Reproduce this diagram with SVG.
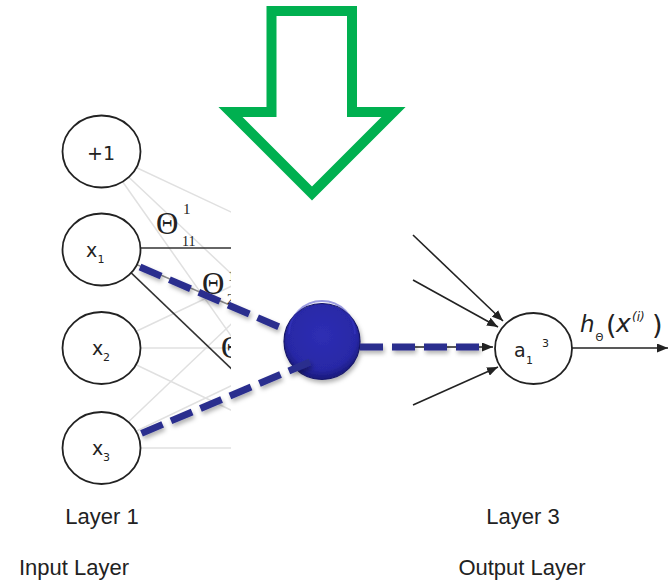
<svg xmlns="http://www.w3.org/2000/svg" width="668" height="581" viewBox="0 0 668 581">
<defs>
<style>
.thin{stroke:#e0e0e0;stroke-width:1.5;fill:none}
.mid{stroke:#8a8a8a;stroke-width:1.5;fill:none}
.dark{stroke:#333;stroke-width:1.6;fill:none}
.arr{stroke:#222;stroke-width:1.6;fill:none;marker-end:url(#ah)}
.node{fill:#fff;stroke:#222;stroke-width:1.8}
.lbl{font-family:"DejaVu Sans",sans-serif;fill:#222}
.theta{font-family:"Liberation Serif",serif;fill:#222}
.layer{font-family:"Liberation Sans",Arial,sans-serif;font-size:22px;fill:#222;text-anchor:middle}
.blue{stroke:#2b2f8e;stroke-width:7;stroke-dasharray:23 9;fill:none;filter:url(#sh)}
</style>
<marker id="ah" markerUnits="userSpaceOnUse" markerWidth="11" markerHeight="9" refX="11" refY="4.5" orient="auto"><path d="M0,0 L11,4.5 L0,9 z" fill="#222"/></marker>
<clipPath id="cl"><rect x="0" y="0" width="231" height="581"/></clipPath>
<radialGradient id="ballg" cx="0.5" cy="0.42" r="0.56">
<stop offset="0" stop-color="#2e2eb4"/>
<stop offset="0.8" stop-color="#2828a6"/>
<stop offset="1" stop-color="#1b1b80"/>
</radialGradient>
<filter id="sh" filterUnits="userSpaceOnUse" x="0" y="0" width="668" height="581"><feDropShadow dx="1.5" dy="3" stdDeviation="2" flood-color="#000" flood-opacity="0.3"/></filter>
</defs>
<rect width="668" height="581" fill="#fff"/>

<g id="connectors">
<g clip-path="url(#cl)">
<line class="thin" x1="101" y1="151" x2="310" y2="249"/>
<line class="thin" x1="101" y1="151" x2="310" y2="348"/>
<line class="thin" x1="101" y1="151" x2="310" y2="448"/>
<line class="thin" x1="101" y1="348" x2="310" y2="249"/>
<line class="thin" x1="101" y1="348" x2="310" y2="348"/>
<line class="thin" x1="101" y1="348" x2="310" y2="448"/>
<line class="thin" x1="101" y1="448" x2="310" y2="249"/>
<line class="thin" x1="101" y1="448" x2="310" y2="348"/>
<line class="thin" x1="101" y1="448" x2="310" y2="448"/>
<line class="dark" x1="101" y1="248" x2="310" y2="248"/>
<line class="mid" x1="101" y1="249" x2="310" y2="340"/>
<line class="dark" x1="101" y1="244" x2="310" y2="444"/>
<text class="theta" x="156" y="234" font-size="31">Θ</text>
<text class="theta" x="183" y="214" font-size="15">1</text>
<text class="theta" x="182" y="246" font-size="14">11</text>
<text class="theta" x="202" y="294" font-size="31">Θ</text>
<text class="theta" x="228" y="281" font-size="15">1</text>
<text class="theta" x="227" y="304" font-size="14">2</text>
<text class="theta" x="221" y="358" font-size="31">Θ</text>
</g>
<line class="arr" x1="413" y1="235" x2="503" y2="321"/>
<line class="arr" x1="413" y1="280" x2="498" y2="327"/>
<line class="arr" x1="413" y1="347" x2="493" y2="347"/>
<line class="arr" x1="413" y1="405" x2="498" y2="367"/>
<line class="arr" x1="572" y1="348" x2="668" y2="348"/>
</g>

<g id="node-bias">
<ellipse class="node" cx="101.5" cy="151.5" rx="39" ry="36"/>
<text class="lbl" x="101" y="160" font-size="19" text-anchor="middle">+1</text>
</g>
<g id="node-x1">
<ellipse class="node" cx="101.5" cy="249.5" rx="39" ry="36"/>
<text class="lbl" x="86" y="257" font-size="19">x</text>
<text class="lbl" x="97.5" y="263" font-size="11">1</text>
</g>
<g id="node-x2">
<ellipse class="node" cx="101.5" cy="348" rx="39" ry="36"/>
<text class="lbl" x="92" y="355" font-size="19">x</text>
<text class="lbl" x="103" y="361" font-size="11">2</text>
</g>
<g id="node-x3">
<ellipse class="node" cx="101.5" cy="448" rx="39" ry="36"/>
<text class="lbl" x="92" y="455" font-size="19">x</text>
<text class="lbl" x="103" y="461" font-size="11">3</text>
</g>
<g id="node-a13">
<ellipse class="node" cx="533.5" cy="348.5" rx="38.5" ry="35.5"/>
<text class="lbl" x="514" y="357" font-size="19">a</text>
<text class="lbl" x="526" y="364" font-size="11">1</text>
<text class="lbl" x="542" y="347" font-size="11">3</text>
</g>
<g id="output-label" class="lbl">
<text x="580" y="332" font-size="23" font-style="italic">h</text>
<text x="595.5" y="341" font-size="10">Θ</text>
<text x="606" y="334" font-size="27">(</text>
<text x="616" y="332" font-size="25" font-style="italic">x</text>
<text x="632" y="321" font-size="12" font-style="italic">(i)</text>
<text x="652" y="334" font-size="27">)</text>
</g>

<g id="node-hidden">
<circle cx="322" cy="341.5" r="38" fill="url(#ballg)" stroke="#16166a" stroke-width="1.2" filter="url(#sh)"/>
<path d="M289,334 A33,33 0 0 1 355,334" fill="none" stroke="#3a3ac4" stroke-width="2" opacity="0.5"/>
</g>

<g id="blue-connectors">
<line class="blue" x1="140" y1="267" x2="284" y2="329"/>
<line class="blue" x1="310" y1="362" x2="140" y2="434"/>
<line class="blue" x1="360" y1="347" x2="484" y2="347"/>
</g>

<g id="green-arrow">
<polygon points="271.5,11 352,11 352,112 393.5,112 312,193.5 230.5,112 271.5,112" fill="#fff" stroke="#00b050" stroke-width="10" stroke-linejoin="miter" stroke-miterlimit="10"/>
</g>

<g id="layer-labels">
<text class="layer" x="102" y="524">Layer 1</text>
<text class="layer" x="74" y="575">Input Layer</text>
<text class="layer" x="523" y="524">Layer 3</text>
<text class="layer" x="522" y="575">Output Layer</text>
</g>
</svg>
